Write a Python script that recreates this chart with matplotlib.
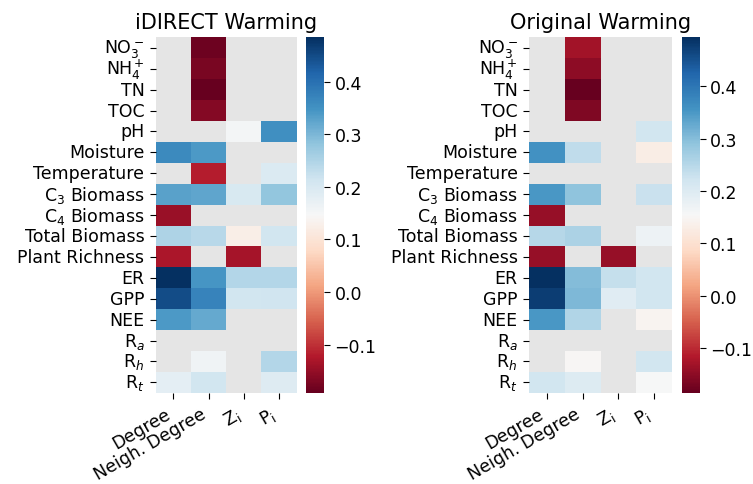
import numpy as np
import matplotlib
matplotlib.use("Agg")
import matplotlib.pyplot as plt
import seaborn as sns

nan = np.nan

rows = ["NO$_3^-$", "NH$_4^+$", "TN", "TOC", "pH", "Moisture", "Temperature",
        "C$_3$ Biomass", "C$_4$ Biomass", "Total Biomass", "Plant Richness",
        "ER", "GPP", "NEE", "R$_a$", "R$_h$", "R$_t$"]
cols = ["Degree", "Neigh. Degree", r"Z$_\mathrm{i}$", r"P$_\mathrm{i}$"]

# correlation of node metrics with environmental variables (nan = not significant)
idirect = [
    [nan, -0.185, nan, nan],
    [nan, -0.175, nan, nan],
    [nan, -0.192, nan, nan],
    [nan, -0.165, nan, nan],
    [nan, nan, 0.152, 0.355],
    [0.362, 0.340, nan, nan],
    [nan, -0.120, nan, 0.195],
    [0.330, 0.325, 0.200, 0.280],
    [-0.145, nan, nan, nan],
    [0.250, 0.240, 0.125, 0.210],
    [-0.130, nan, -0.135, nan],
    [0.485, 0.345, 0.245, 0.245],
    [0.450, 0.372, 0.210, 0.215],
    [0.340, 0.320, nan, nan],
    [nan, nan, nan, nan],
    [nan, 0.160, nan, 0.245],
    [0.180, 0.210, nan, 0.190],
]

original = [
    [nan, -0.130, nan, nan],
    [nan, -0.150, nan, nan],
    [nan, -0.185, nan, nan],
    [nan, -0.162, nan, nan],
    [nan, nan, nan, 0.220],
    [0.360, 0.240, nan, 0.130],
    [nan, nan, nan, nan],
    [0.350, 0.290, nan, 0.230],
    [-0.140, nan, nan, nan],
    [0.250, 0.260, nan, 0.170],
    [-0.140, nan, -0.140, nan],
    [0.493, 0.300, 0.235, 0.220],
    [0.475, 0.305, 0.195, 0.220],
    [0.350, 0.255, nan, 0.145],
    [nan, nan, nan, nan],
    [nan, 0.150, nan, 0.220],
    [0.220, 0.200, nan, 0.155],
]

titles = ["iDIRECT Warming", "Original Warming"]

fig = plt.figure(figsize=(7.53, 4.85), dpi=100)
ax1 = fig.add_axes([0.207, 0.188, 0.187, 0.733])
cax1 = fig.add_axes([0.407, 0.188, 0.023, 0.733])
ax2 = fig.add_axes([0.7025, 0.188, 0.19, 0.733])
cax2 = fig.add_axes([0.9055, 0.188, 0.0235, 0.733])

for ax, cax, data, title in [(ax1, cax1, idirect, titles[0]),
                             (ax2, cax2, original, titles[1])]:
    ax.set_facecolor("#e5e5e5")
    sns.heatmap(np.array(data), ax=ax, cbar_ax=cax, cmap="RdBu",
                xticklabels=cols, yticklabels=rows)
    ax.set_title(title, fontsize=15, pad=7)
    ax.tick_params(axis="y", labelsize=12.5, rotation=0, length=4.2, pad=4)
    ax.tick_params(axis="x", labelsize=12.5, length=4.2, pad=4)
    plt.setp(ax.get_xticklabels(), rotation=30, ha="right")
    cax.tick_params(labelsize=12.5, length=4.2)

fig.savefig("out.png", dpi=100)
